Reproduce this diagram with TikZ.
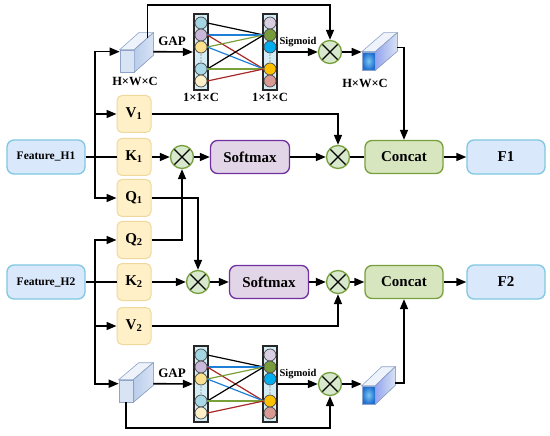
\documentclass[tikz,border=0pt]{standalone}
\usepackage{fontspec}
\setmainfont{Liberation Serif}
\usetikzlibrary{arrows.meta,calc}

\definecolor{featfill}{HTML}{DAE8FC}
\definecolor{featline}{HTML}{7EC8E0}
\definecolor{qkvfill}{HTML}{FFF0C8}
\definecolor{qkvline}{HTML}{F0D89C}
\definecolor{softfill}{HTML}{E3D5E8}
\definecolor{softline}{HTML}{7030A0}
\definecolor{catfill}{HTML}{D8E6C0}
\definecolor{catline}{HTML}{77A03C}
\definecolor{multfill}{HTML}{D8E8CC}
\definecolor{colfill}{HTML}{D4ECF4}
\definecolor{linkblue}{HTML}{1E7FD8}
\definecolor{linkgreen}{HTML}{7AA03A}
\definecolor{linkred}{HTML}{A82828}
\definecolor{ca1}{HTML}{A3D5E2}
\definecolor{ca2}{HTML}{C9B8D9}
\definecolor{ca3}{HTML}{FBE08D}
\definecolor{ca4}{HTML}{A9D8E6}
\definecolor{ca5}{HTML}{FDF0C9}
\definecolor{cb1}{HTML}{D9CFE3}
\definecolor{cb2}{HTML}{789B3C}
\definecolor{cb3}{HTML}{00AEEF}
\definecolor{cb4}{HTML}{FFC000}
\definecolor{cb5}{HTML}{D99A94}
\definecolor{cubeline}{HTML}{8FA4C8}
\definecolor{cubefront}{HTML}{D8E3F4}
\definecolor{cubetopc}{HTML}{EEF3FB}
\definecolor{cubeside}{HTML}{B9CDEB}
\definecolor{cubeblue}{HTML}{1F6FD0}
\definecolor{cubelight}{HTML}{7CC6F2}

\begin{document}
\begin{tikzpicture}[x=1pt, y=-1pt, line width=1.6pt,
    every node/.style={font=\bfseries},
    arr/.style={-{Triangle[length=10pt,width=8pt]}},
    feat/.style={draw=featline, fill=featfill, rounded corners=7pt, line width=1.3pt,
      minimum width=78pt, minimum height=34pt, font=\bfseries\fontsize{11.5}{13}\selectfont},
    qkv/.style={draw=qkvline, fill=qkvfill, rounded corners=5pt, line width=1pt,
      minimum width=34pt, minimum height=37pt, font=\bfseries\fontsize{15}{17}\selectfont},
    soft/.style={draw=softline, fill=softfill, rounded corners=7pt, line width=1.3pt,
      minimum width=79pt, minimum height=33pt, font=\bfseries\fontsize{15}{17}\selectfont},
    cat/.style={draw=catline, fill=catfill, rounded corners=7pt, line width=1.3pt,
      minimum width=78pt, minimum height=33pt, font=\bfseries\fontsize{15}{17}\selectfont},
    mult/.style={circle, draw=catline, fill=multfill, minimum size=23pt, inner sep=0pt, line width=1.3pt,
      path picture={
        \draw[black, line width=1.3pt] ([shift={(-8pt,-8pt)}]path picture bounding box.center)
          -- ([shift={(8pt,8pt)}]path picture bounding box.center);
        \draw[black, line width=1.3pt] ([shift={(-8pt,8pt)}]path picture bounding box.center)
          -- ([shift={(8pt,-8pt)}]path picture bounding box.center);}},
    column/.style={draw=black!85, fill=colfill, line width=2.2pt, minimum width=14pt,
      minimum height=76pt, inner sep=0pt},
    ball/.style={circle, draw=black!70, line width=0.7pt, minimum size=12pt, inner sep=0pt},
    lcube/.style={draw=cubeline, fill=cubefront, line width=0.6pt, minimum width=14pt,
      minimum height=22pt, inner sep=0pt},
    rcube/.style={draw=cubeline, inner color=cubelight, outer color=cubeblue,
      line width=0.6pt, minimum width=13pt, minimum height=18pt, inner sep=0pt},
    dimlbl/.style={font=\bfseries\fontsize{12.5}{14}\selectfont},
    oplbl/.style={font=\bfseries\fontsize{13}{15}\selectfont},
    siglbl/.style={font=\bfseries\fontsize{10.5}{12}\selectfont}]

\useasboundingbox (0,0) rectangle (550,436);

% inputs and Q/K/V
\node[feat] (featA) at (46,157) {Feature\_H1};
\node[feat] (featB) at (46,282) {Feature\_H2};
\node[qkv] (vA) at (134,114) {V\textsubscript{1}};
\node[qkv] (kA) at (134,157) {K\textsubscript{1}};
\node[qkv] (qA) at (134,198) {Q\textsubscript{1}};
\node[qkv] (qB) at (134,240) {Q\textsubscript{2}};
\node[qkv] (kB) at (134,282) {K\textsubscript{2}};
\node[qkv] (vB) at (134,326) {V\textsubscript{2}};

% attention rows
\node[mult] (otK1) at (182,157) {};
\node[soft] (smA) at (250,157) {Softmax};
\node[mult] (otV1) at (338,157) {};
\node[cat] (catA) at (404,157) {Concat};
\node[feat, font=\bfseries\fontsize{15}{17}\selectfont] (fA) at (506,157) {F1};

\node[mult] (otK2) at (198,282) {};
\node[soft] (smB) at (269,282) {Softmax};
\node[mult] (otV2) at (338,282) {};
\node[cat] (catB) at (404,282) {Concat};
\node[feat, font=\bfseries\fontsize{15}{17}\selectfont] (fB) at (506,282) {F2};

% channel branches
\node[lcube] (cubeA) at (127,61) {};
\node[column] (colA1) at (201,52) {};
\node[column] (colA2) at (270,52) {};
\node[mult] (otA) at (330,52) {};
\node[rcube] (cubeB) at (368.5,61) {};

\node[lcube] (cubeC) at (126,391) {};
\node[column] (colB1) at (201,384) {};
\node[column] (colB2) at (270,384) {};
\node[mult] (otB) at (330,384) {};
\node[rcube] (cubeD) at (368.5,395) {};

% cube faces
\foreach \c/\dx/\dy in {cubeA/19/17, cubeC/20/17} {
  \filldraw[draw=cubeline, fill=cubetopc, line width=0.6pt] (\c.north west) -- ++(\dx,-\dy)
    -- ($(\c.north east)+(\dx,-\dy)$) -- (\c.north east) -- cycle;
  \filldraw[draw=cubeline, left color=cubeside, right color=cubefront, line width=0.6pt]
    (\c.north east) -- ++(\dx,-\dy) -- ($(\c.south east)+(\dx,-\dy)$) -- (\c.south east) -- cycle;
}
\foreach \c/\dx/\dy in {cubeB/22/19, cubeD/20/19} {
  \filldraw[draw=cubeline, fill=cubetopc, line width=0.6pt] (\c.north west) -- ++(\dx,-\dy)
    -- ($(\c.north east)+(\dx,-\dy)$) -- (\c.north east) -- cycle;
  \filldraw[draw=cubeline, left color=cubeside!80!blue, right color=cubefront, line width=0.6pt]
    (\c.north east) -- ++(\dx,-\dy) -- ($(\c.south east)+(\dx,-\dy)$) -- (\c.south east) -- cycle;
}

% neurons
\foreach \col/\n in {colA1/a, colB1/c} {
  \foreach \i/\dy/\clr in {1/-29/ca1, 2/-17/ca2, 3/-5/ca3, 4/17/ca4, 5/29/ca5}
    \node[ball, fill=\clr] (\n\i) at ($(\col)+(0,\dy)$) {};
  \foreach \dy in {3,6,9}
    \fill[black!60] ($(\col)+(0,\dy)$) circle (0.6pt);
}
\foreach \col/\n in {colA2/b, colB2/d} {
  \foreach \i/\dy/\clr in {1/-29/cb1, 2/-17/cb2, 3/-5/cb3, 4/17/cb4, 5/29/cb5}
    \node[ball, fill=\clr] (\n\i) at ($(\col)+(0,\dy)$) {};
  \foreach \dy in {3,6,9}
    \fill[black!60] ($(\col)+(0,\dy)$) circle (0.6pt);
}
\foreach \l/\r in {a/b, c/d} {
  \foreach \s/\t/\clr in {1/2/black, 2/2/linkblue, 2/4/linkred, 3/2/linkgreen,
                          3/4/linkblue, 4/2/black, 4/4/linkgreen, 5/4/linkred}
    \draw[color=\clr, line width=1.2pt] (\l\s.east) -- (\r\t.west);
}

% labels
\node[dimlbl] (dimA) at (135,81) {H×W×C};
\node[dimlbl] (dimB) at (365,83) {H×W×C};
\node[dimlbl] (dimC) at (201,97) {1×1×C};
\node[dimlbl] (dimD) at (270,97) {1×1×C};
\node[oplbl] (gapA) at (172,41) {GAP};
\node[oplbl] (gapB) at (172,373) {GAP};
\node[siglbl] (sigA) at (298,42) {Sigmoid};
\node[siglbl] (sigB) at (298,374) {Sigmoid};

% branch points
\coordinate (jA) at (95,157);
\coordinate (jB) at (95,282);
\coordinate (inA) at ($(cubeA.north west)+(0,2)$);
\coordinate (outA) at ($(cubeA.north east)+(19,2)$);
\coordinate (upA) at ($(cubeA.north east)+(13,-12)$);
\coordinate (outB) at ($(cubeB.north east)+(22,-4)$);
\coordinate (inC) at ($(cubeC.north west)+(0,4)$);
\coordinate (outC) at ($(cubeC.north east)+(20,4)$);
\coordinate (outD) at ($(cubeD.north east)+(20,-3)$);
\coordinate (topy) at (0,5);
\coordinate (boty) at (0,428);

% Feature_H1 branch
\draw (featA) -- (kA);
\draw[arr] (jA) |- (vA.west);
\draw[arr] (jA) |- (qA.west);
\draw[arr] (jA) |- (inA);
% Feature_H2 branch
\draw (featB) -- (kB);
\draw[arr] (jB) |- (qB.west);
\draw[arr] (jB) |- (vB.west);
\draw[arr] (jB) |- (inC);

% attention
\draw[arr] (kA) -- (otK1);
\draw[arr] (otK1) -- (smA);
\draw[arr] (smA) -- (otV1);
\draw (otV1) -- (catA);
\draw[arr] (catA) -- (fA);
\draw[arr] (kB) -- (otK2);
\draw[arr] (otK2) -- (smB);
\draw[arr] (smB) -- (otV2);
\draw[arr] (otV2) -- (catB);
\draw[arr] (catB) -- (fB);
\draw[arr] (qA.east) -| (otK2.north);
\draw[arr] (qB.east) -| (otK1.south);
\draw[arr] (vA.east) -| (otV1.north);
\draw[arr] (vB.east) -| (otV2.south);

% channel branches
\draw[arr] (outA) -- (colA1.west);
\draw[arr] (colA2.east |- otA) -- (otA.west);
\draw[arr] (otA.east) -- (otA.east -| cubeB.west);
\draw[arr] (upA) -- (upA |- topy) -| (otA.north);
\draw[arr] (outB) -| (catA.north);

\draw[arr] (outC) -- (colB1.west);
\draw[arr] (colB2.east |- otB) -- (otB.west);
\draw[arr] (otB.east) -- (otB.east -| cubeD.west);
\draw[arr] (cubeC.south) -- (cubeC.south |- boty) -| (otB.south);
\draw[arr] (outD) -| (catB.south);

\end{tikzpicture}
\end{document}
